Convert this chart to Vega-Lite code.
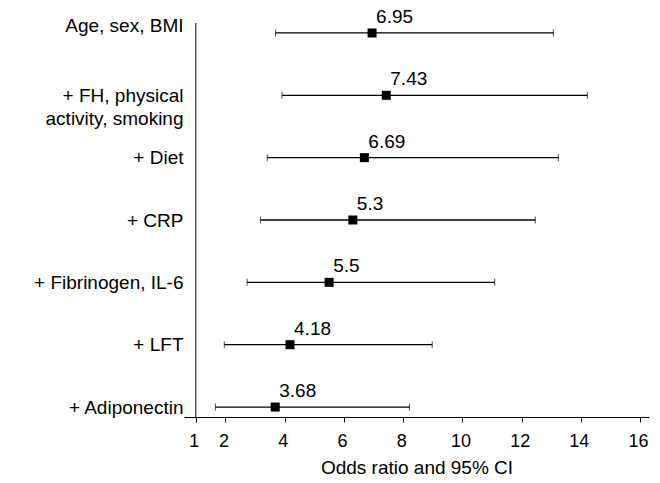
{
  "$schema": "https://vega.github.io/schema/vega-lite/v6.json",
  "width": 465,
  "height": 394,
  "autosize": {"type": "none"},
  "padding": {"left": 184, "top": 23, "right": 11, "bottom": 66},
  "background": "white",
  "config": {"view": {"stroke": null}, "font": "Liberation Sans"},
  "data": {
    "values": [
      {"model": "Age, sex, BMI", "or": 6.95, "lo": 3.69, "hi": 13.07, "lab": "6.95"},
      {"model": "+ FH, physical|activity, smoking", "or": 7.43, "lo": 3.91, "hi": 14.22, "lab": "7.43"},
      {"model": "+ Diet", "or": 6.69, "lo": 3.41, "hi": 13.24, "lab": "6.69"},
      {"model": "+ CRP", "or": 6.3, "lo": 3.18, "hi": 12.46, "lab": "5.3"},
      {"model": "+ Fibrinogen, IL-6", "or": 5.5, "lo": 2.73, "hi": 11.09, "lab": "5.5"},
      {"model": "+ LFT", "or": 4.18, "lo": 1.96, "hi": 8.98, "lab": "4.18"},
      {"model": "+ Adiponectin", "or": 3.68, "lo": 1.66, "hi": 8.21, "lab": "3.68"}
    ]
  },
  "layer": [
    {
      "data": {"values": [{"v": 1}]},
      "mark": {"type": "rule", "color": "black", "strokeWidth": 1},
      "encoding": {"x": {"field": "v", "type": "quantitative"}}
    },
    {
      "mark": {"type": "rule", "color": "black", "strokeWidth": 1.3},
      "encoding": {
        "x": {
          "field": "lo", "type": "quantitative",
          "scale": {"domain": [0.6, 16.3], "nice": false, "zero": false},
          "axis": {
            "values": [1, 2, 4, 6, 8, 10, 12, 14, 16],
            "title": "Odds ratio and 95% CI",
            "grid": false,
            "domainColor": "black",
            "domainWidth": 1,
            "tickColor": "black",
            "tickSize": 5,
            "labelFontSize": 18,
            "labelColor": "black",
            "labelPadding": 10,
            "labelOffset": -2,
            "titleFontSize": 19,
            "titleFontWeight": "normal",
            "titleColor": "black",
            "titlePadding": 8
          }
        },
        "x2": {"field": "hi"},
        "y": {
          "field": "model", "type": "nominal", "sort": null,
          "scale": {"type": "point", "padding": 0.16},
          "axis": {
            "title": null,
            "domain": false,
            "ticks": false,
            "labelFontSize": 19,
            "labelColor": "black",
            "labelPadding": 1,
            "labelLineHeight": 23,
            "labelOffset": {"condition": {"test": "datum.value == 'Age, sex, BMI'", "value": -7}, "value": 0},
            "labelExpr": "split(datum.value, '|')"
          }
        }
      }
    },
    {
      "mark": {"type": "tick", "color": "black", "size": 7, "thickness": 1},
      "encoding": {
        "x": {"field": "lo", "type": "quantitative"},
        "y": {"field": "model", "type": "nominal", "sort": null}
      }
    },
    {
      "mark": {"type": "tick", "color": "black", "size": 7, "thickness": 1},
      "encoding": {
        "x": {"field": "hi", "type": "quantitative"},
        "y": {"field": "model", "type": "nominal", "sort": null}
      }
    },
    {
      "mark": {"type": "point", "shape": "square", "size": 81, "filled": true, "color": "black", "opacity": 1},
      "encoding": {
        "x": {"field": "or", "type": "quantitative"},
        "y": {"field": "model", "type": "nominal", "sort": null}
      }
    },
    {
      "mark": {"type": "text", "align": "left", "baseline": "alphabetic", "dx": 4, "dy": -10, "fontSize": 19, "color": "black"},
      "encoding": {
        "x": {"field": "or", "type": "quantitative"},
        "y": {"field": "model", "type": "nominal", "sort": null},
        "text": {"field": "lab"}
      }
    }
  ]
}
